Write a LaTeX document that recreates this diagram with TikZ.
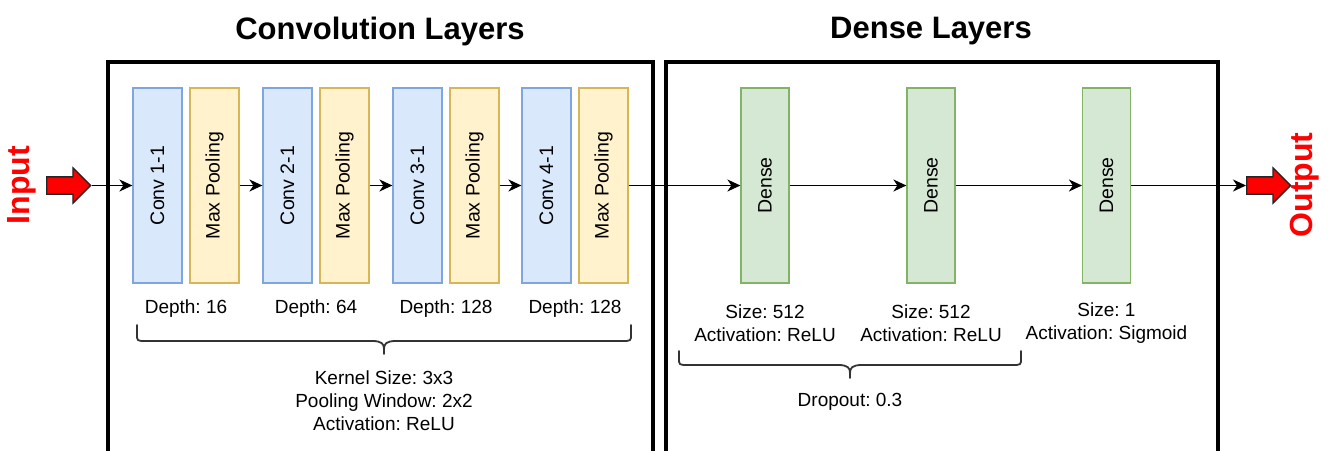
\documentclass[tikz,border=0pt]{standalone}
\usepackage{fontspec}
\setmainfont{Liberation Sans}
\usetikzlibrary{arrows.meta,shapes.arrows}
\definecolor{bluefill}{HTML}{DAE8FC}
\definecolor{bluedraw}{HTML}{7EA6E0}
\definecolor{yelfill}{HTML}{FFF2CC}
\definecolor{yeldraw}{HTML}{D6B656}
\definecolor{grnfill}{HTML}{D5E8D4}
\definecolor{grndraw}{HTML}{82B366}
\definecolor{bracecol}{HTML}{333333}
\tikzset{
  layer/.style={draw, line width=1.2pt, minimum width=49pt, minimum height=195pt, inner sep=0pt, font=\fontsize{19.5}{23}\selectfont},
  convL/.style={layer, draw=bluedraw, fill=bluefill},
  poolL/.style={layer, draw=yeldraw, fill=yelfill},
  denseL/.style={layer, draw=grndraw, fill=grnfill, minimum width=48pt},
  frame/.style={draw, line width=4pt, inner sep=0pt, outer sep=0pt, anchor=north west},
  conn/.style={-{Stealth[length=13pt,width=12pt,inset=4pt]}, line width=1.8pt},
  lbl/.style={font=\fontsize{19}{23}\selectfont, align=center, inner sep=0pt},
  ttl/.style={font=\bfseries\fontsize{31}{36}\selectfont, inner sep=0pt},
  io/.style={text=red, font=\bfseries\fontsize{32}{36}\selectfont, rotate=90, inner sep=0pt},
  redarrow/.style={single arrow, draw=black!85, line width=1.3pt, fill=red, minimum height=44pt,
    single arrow head extend=9pt, inner xsep=0pt, inner ysep=8pt, anchor=tail},
  brc/.style={line width=1.8pt, draw=bracecol, line cap=round}
}
\begin{document}
\frenchspacing
\begin{tikzpicture}[x=1pt,y=-1pt]
\useasboundingbox (0,0) rectangle (1331,450);
\clip (0,0) rectangle (1331,450);
\fill[white] (0,0) rectangle (1331,450);

% titles
\node[ttl] (t1) at (380,31) {Convolution Layers};
\node[ttl] (t2) at (931,31) {Dense Layers};

% frames
\node[frame, minimum width=545pt, minimum height=391pt] (convframe) at (108,62) {};
\node[frame, minimum width=552pt, minimum height=391pt] (denseframe) at (666,62) {};

% input / output
\node[io] (intext) at (22,185) {Input};
\node[redarrow] (inarrow) at (46,185.5) {};
\node[redarrow] (outarrow) at (1246,185.5) {};
\node[io] (outtext) at (1305,185) {Output};

% conv layers
\node[convL] (c1) at (157.5,185.5) {\rotatebox{90}{Conv 1-1}};
\node[poolL] (m1) at (214.5,185.5) {\rotatebox{90}{Max Pooling}};
\node[convL] (c2) at (287.5,185.5) {\rotatebox{90}{Conv 2-1}};
\node[poolL] (m2) at (344.5,185.5) {\rotatebox{90}{Max Pooling}};
\node[convL] (c3) at (417.5,185.5) {\rotatebox{90}{Conv 3-1}};
\node[poolL] (m3) at (474.5,185.5) {\rotatebox{90}{Max Pooling}};
\node[convL] (c4) at (546.5,185.5) {\rotatebox{90}{Conv 4-1}};
\node[poolL] (m4) at (603.5,185.5) {\rotatebox{90}{Max Pooling}};

% dense layers
\node[denseL] (d1) at (765,185.5) {\rotatebox{90}{Dense}};
\node[denseL] (d2) at (931,185.5) {\rotatebox{90}{Dense}};
\node[denseL] (d3) at (1106.5,185.5) {\rotatebox{90}{Dense}};

% connectors
\draw[conn] (inarrow.tip) -- (c1);
\draw[conn] (m1) -- (c2);
\draw[conn] (m2) -- (c3);
\draw[conn] (m3) -- (c4);
\draw[conn] (m4) -- (d1);
\draw[conn] (d1) -- (d2);
\draw[conn] (d2) -- (d3);
\draw[conn] (d3) -- (outarrow.tail);

% conv labels
\node[lbl] (dep1) at (186,309) {Depth: 16};
\node[lbl] (dep2) at (316,309) {Depth: 64};
\node[lbl] (dep3) at (446,309) {Depth: 128};
\node[lbl] (dep4) at (575,309) {Depth: 128};

\draw[brc] (137,325) -- (137,334) .. controls (137,341) .. (146,341) -- (372,341)
  .. controls (382,341) and (384,344) .. (384,349) -- (384,354);
\draw[brc] (631,325) -- (631,334) .. controls (631,341) .. (622,341) -- (396,341)
  .. controls (386,341) and (384,344) .. (384,349);

\node[lbl] (convinfo) at (384,401) {Kernel Size: 3x3\\Pooling Window: 2x2\\Activation: ReLU};

% dense labels
\node[lbl] (dl1) at (765,323.5) {Size: 512\\Activation: ReLU};
\node[lbl] (dl2) at (931,323.5) {Size: 512\\Activation: ReLU};
\node[lbl] (dl3) at (1106.5,323.5) {Size: 1\\Activation: Sigmoid};

\draw[brc] (679,351) -- (679,358) .. controls (679,365) .. (688,365) -- (838,365)
  .. controls (848,365) and (850,368) .. (850,373) -- (850,378);
\draw[brc] (1021,351) -- (1021,358) .. controls (1021,365) .. (1012,365) -- (862,365)
  .. controls (852,365) and (850,368) .. (850,373);

\node[lbl] (dropout) at (850,402) {Dropout: 0.3};
\end{tikzpicture}
\end{document}
